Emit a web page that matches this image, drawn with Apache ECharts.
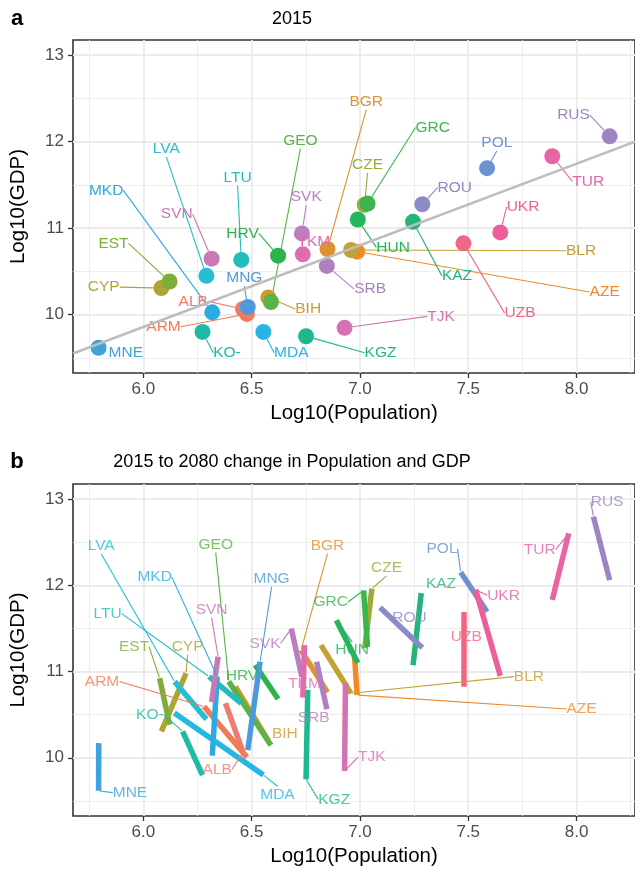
<!DOCTYPE html>
<html><head><meta charset="utf-8">
<script src="https://cdn.jsdelivr.net/npm/echarts@6/dist/echarts.min.js"></script>
<style>html,body{margin:0;padding:0;background:#fff}#c{width:635px;height:872px}</style>
</head><body><div id="c"></div>
<script>
// ---------- data ----------
const countries = ['ALB','ARM','AZE','BGR','BIH','BLR','CYP','CZE','EST','GEO','GRC','HRV','HUN','KAZ','KGZ','KO-','LTU','LVA','MDA','MKD','MNE','MNG','POL','ROU','RUS','SRB','SVK','SVN','TJK','TKM','TUR','UKR','UZB'];
const pop2015 = [6.460,6.478,6.987,6.850,6.577,6.959,6.083,7.022,6.121,6.589,7.035,6.622,6.990,7.245,6.751,6.273,6.452,6.291,6.554,6.318,5.793,6.482,7.587,7.288,8.153,6.847,6.732,6.315,6.929,6.736,7.888,7.648,7.478];
const gdp2015 = [10.065,10.008,10.728,10.759,10.199,10.747,10.307,11.270,10.383,10.146,11.285,10.682,11.100,11.073,9.750,9.800,10.632,10.448,9.800,10.026,9.617,10.089,11.693,11.276,12.061,10.563,10.939,10.647,9.847,10.697,11.831,10.950,10.824];
const pop2080 = [6.379,6.280,6.975,6.728,6.425,6.820,6.197,7.055,6.075,6.394,7.017,6.516,6.891,7.283,6.759,6.181,6.303,6.144,6.143,6.341,5.794,6.539,7.465,7.093,8.078,6.800,6.683,6.345,6.933,6.744,7.964,7.534,7.478];
const gdp2080 = [10.634,10.595,11.172,11.249,10.826,11.307,10.980,11.961,10.923,10.884,11.941,11.076,11.595,11.910,10.788,10.307,10.941,10.883,10.519,10.941,10.170,11.114,12.152,11.742,12.796,11.114,11.499,11.172,10.865,11.307,12.602,11.949,11.691];
// repelled label positions (data units)
const labelAX = [6.230,6.093,8.130,7.029,6.761,8.021,5.817,7.035,5.862,6.725,7.336,6.458,7.153,7.448,7.095,6.386,6.435,6.106,6.683,5.828,5.919,6.466,7.632,7.438,7.986,7.047,6.752,6.154,7.374,6.787,8.054,7.753,7.739];
const labelAY = [10.153,9.859,10.261,12.460,10.066,10.739,10.318,11.732,10.824,12.011,12.164,10.939,10.778,10.448,9.560,9.560,11.583,11.916,9.560,11.437,9.560,10.422,11.985,11.468,12.307,10.295,11.360,11.161,9.980,10.843,11.540,11.245,10.020];
const labelBX = [6.341,5.809,8.023,6.850,6.653,7.780,6.204,7.123,5.957,6.334,6.865,6.455,6.964,7.374,6.881,6.030,5.835,5.805,6.619,6.052,5.938,6.592,7.379,7.229,8.141,6.786,6.562,6.315,7.055,6.744,7.830,7.663,7.491];
const labelBY = [9.865,10.884,10.565,12.461,10.280,10.941,11.287,12.203,11.287,12.472,11.806,10.949,11.249,12.018,9.519,10.500,11.672,12.460,9.577,12.095,9.596,12.076,12.422,11.626,12.971,10.465,11.326,11.719,10.007,10.857,12.414,11.884,11.403];
// which end of the change segment the label points to: 0 = 2015, 1 = 2080
const labelBAnchor = [0,1,0,1,0,0,1,1,1,1,1,1,1,1,0,1,1,1,0,1,0,1,1,1,1,0,1,1,0,0,1,1,1];
const fitX = [5.675, 8.27];
const fitY = [9.55, 12.0];
const xMajor = [6.0, 6.5, 7.0, 7.5, 8.0];
const xMinor = [5.75, 6.25, 6.75, 7.25, 7.75, 8.25];
const yMajor = [10, 11, 12, 13];
const yMinor = [9.5, 10.5, 11.5, 12.5];
const xRange = [5.675, 8.27];
const yRange = [9.325, 13.175];
// colour per country
const colors = ['#EE7B6F','#F27A56','#EE8A2A','#DF9230','#CF9A2E','#C2A236','#AEA433','#9CAB3A','#7DAE3A','#5AB347','#3CB54A','#2DB34B','#25B55E','#23B47A','#1FB78E','#20B9A3','#23BBBC','#26BDD5','#25B6E2','#2CAAE1','#3EA2DD','#4D9ADB','#6C92CF','#8A8BC7','#9C85C2','#AD80C0','#BA7DBF','#C879B6','#D572B3','#E26AAE','#EA63A5','#EE5E9A','#EE6783'];

const n = countries.length;

// ---------- chart ----------
const FONT = '"Liberation Sans", Arial, Helvetica, sans-serif';
const LABEL_SIZE = 15.5;
const chart = echarts.init(document.getElementById('c'), null, {renderer: 'canvas'});

const grids = [
  {left: 73, right: -6.5, top: 40, height: 333, show: true, borderColor: '#333333', borderWidth: 1.6, backgroundColor: '#ffffff'},
  {left: 73, right: -6.5, top: 484, height: 332, show: true, borderColor: '#333333', borderWidth: 1.6, backgroundColor: '#ffffff'}
];
function xAx(gi) {
  return {
    gridIndex: gi, type: 'value', min: xRange[0], max: xRange[1],
    splitLine: {show: false}, axisLine: {show: false},
    axisTick: {show: true, length: 5, customValues: xMajor, lineStyle: {color: '#333333', width: 1.3}},
    axisLabel: {customValues: xMajor, formatter: v => Number(v).toFixed(1), color: '#4D4D4D', fontSize: 17, fontFamily: FONT, margin: 8},
    name: 'Log10(Population)', nameLocation: 'middle', nameGap: 30,
    nameTextStyle: {fontSize: 20.5, color: '#000000', fontFamily: FONT}
  };
}
function yAx(gi) {
  return {
    gridIndex: gi, type: 'value', min: yRange[0], max: yRange[1],
    splitLine: {show: false}, axisLine: {show: false},
    axisTick: {show: true, length: 5, customValues: yMajor, lineStyle: {color: '#333333', width: 1.3}},
    axisLabel: {customValues: yMajor, formatter: v => String(Math.round(v)), color: '#4D4D4D', fontSize: 17, fontFamily: FONT, margin: 9},
    name: 'Log10(GDP)', nameLocation: 'middle', nameGap: 44,
    nameTextStyle: {fontSize: 20.5, color: '#000000', fontFamily: FONT}
  };
}
const baseAxes = {grid: grids, xAxis: [xAx(0), xAx(1)], yAxis: [yAx(0), yAx(1)]};
chart.setOption(Object.assign({animation: false}, baseAxes));

// text measuring for deciding if a leader line is needed
const mctx = document.createElement('canvas').getContext('2d');
mctx.font = LABEL_SIZE + 'px ' + FONT;
function rectDist(a, l, txt) {
  const w = mctx.measureText(txt).width, h = LABEL_SIZE;
  const dx = Math.max(Math.abs(a[0] - l[0]) - w / 2, 0);
  const dy = Math.max(Math.abs(a[1] - l[1]) - h / 2, 0);
  return Math.hypot(dx, dy);
}

const posA = [], posB = [], showA = [], showB = [], anchorB = [];
for (let i = 0; i < n; i++) {
  const pa = chart.convertToPixel({gridIndex: 0}, [pop2015[i], gdp2015[i]]);
  const la = chart.convertToPixel({gridIndex: 0}, [labelAX[i], labelAY[i]]);
  posA.push(la);
  showA.push(rectDist(pa, la, countries[i]) - 8 > 5);
  const an = labelBAnchor[i] ? [pop2080[i], gdp2080[i]] : [pop2015[i], gdp2015[i]];
  anchorB.push(an);
  const pb = chart.convertToPixel({gridIndex: 1}, an);
  const lb = chart.convertToPixel({gridIndex: 1}, [labelBX[i], labelBY[i]]);
  posB.push(lb);
  showB.push(rectDist(pb, lb, countries[i]) > 6);
}

function gridLineSeries(gi, xs, ys, w) {
  const data = [];
  xs.forEach(v => data.push({coords: [[v, yRange[0]], [v, yRange[1]]]}));
  ys.forEach(v => data.push({coords: [[xRange[0], v], [xRange[1], v]]}));
  return {type: 'lines', coordinateSystem: 'cartesian2d', xAxisIndex: gi, yAxisIndex: gi, z: 0, silent: true,
    lineStyle: {color: '#EBEBEB', width: w, opacity: 1}, data: data};
}

const labelTxt = (col) => ({show: true, formatter: p => p.name, color: col, fontSize: LABEL_SIZE, fontFamily: FONT});

const series = [
  gridLineSeries(0, xMinor, yMinor, 0.9), gridLineSeries(0, xMajor, yMajor, 1.8),
  gridLineSeries(1, xMinor, yMinor, 0.9), gridLineSeries(1, xMajor, yMajor, 1.8),
  {
    type: 'scatter', xAxisIndex: 0, yAxisIndex: 0, z: 3, symbol: 'circle', symbolSize: 16, silent: true,
    data: countries.map((c, i) => ({
      name: c, value: [pop2015[i], gdp2015[i]],
      itemStyle: {color: colors[i], opacity: 1},
      label: labelTxt(colors[i]),
      labelLine: {show: showA[i], lineStyle: {color: colors[i], width: 1.1}}
    })),
    labelLayout: p => ({x: posA[p.dataIndex][0], y: posA[p.dataIndex][1], align: 'center', verticalAlign: 'middle'}),
    labelLine: {show: true, length2: 0, minTurnAngle: 0, smooth: false}
  },
  {
    type: 'line', xAxisIndex: 0, yAxisIndex: 0, z: 4, silent: true, symbol: 'none',
    lineStyle: {color: '#BDBDBD', width: 2.5}, data: fitX.map((x, i) => [x, fitY[i]])
  },
  {
    type: 'lines', coordinateSystem: 'cartesian2d', xAxisIndex: 1, yAxisIndex: 1, z: 3, silent: true,
    lineStyle: {width: 5.5, opacity: 1, cap: 'butt'},
    data: countries.map((c, i) => ({coords: [[pop2015[i], gdp2015[i]], [pop2080[i], gdp2080[i]]], lineStyle: {color: colors[i]}}))
  },
  {
    type: 'scatter', xAxisIndex: 1, yAxisIndex: 1, z: 4, symbol: 'circle', symbolSize: 2, silent: true,
    data: countries.map((c, i) => ({
      name: c, value: anchorB[i],
      itemStyle: {color: 'rgba(0,0,0,0)'},
      label: labelTxt(colors[i]),
      labelLine: {show: showB[i], lineStyle: {color: colors[i], width: 1.1}}
    })),
    labelLayout: p => ({x: posB[p.dataIndex][0], y: posB[p.dataIndex][1], align: 'center', verticalAlign: 'middle'}),
    labelLine: {show: true, length2: 0, minTurnAngle: 0, smooth: false}
  }
];

const graphic = [
  {type: 'text', x: 17, y: 19, style: {text: 'a', font: 'bold 22px ' + FONT, fill: '#000', align: 'center', verticalAlign: 'middle'}},
  {type: 'text', x: 292, y: 19, style: {text: '2015', font: '18px ' + FONT, fill: '#000', align: 'center', verticalAlign: 'middle'}},
  {type: 'text', x: 17, y: 462, style: {text: 'b', font: 'bold 22px ' + FONT, fill: '#000', align: 'center', verticalAlign: 'middle'}},
  {type: 'text', x: 292, y: 462, style: {text: '2015 to 2080 change in Population and GDP', font: '18px ' + FONT, fill: '#000', align: 'center', verticalAlign: 'middle'}}
];

chart.setOption(Object.assign({animation: false, backgroundColor: '#ffffff', graphic: graphic, series: series}, baseAxes), true);
</script>
</body></html>
